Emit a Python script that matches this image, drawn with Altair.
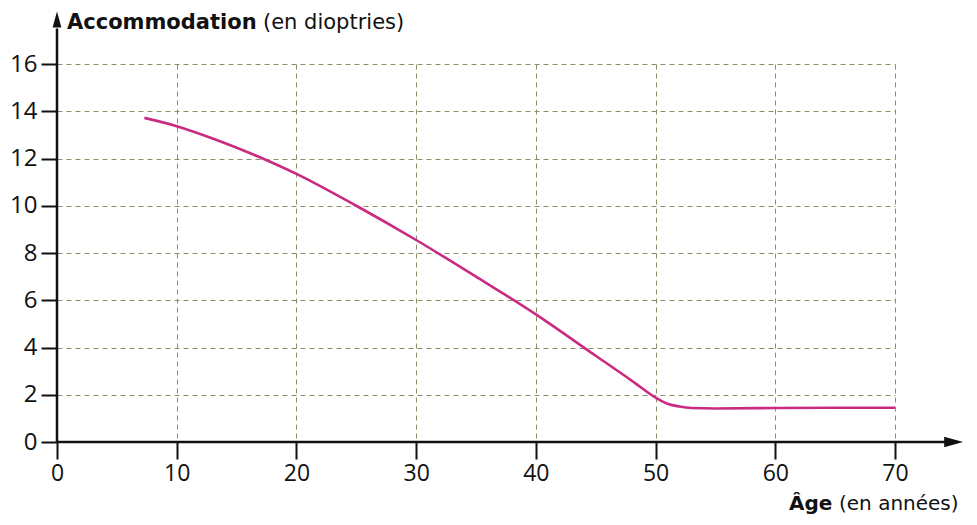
import altair as alt
import pandas as pd

# Data
age = [7.3, 10, 13, 16.5, 20, 25, 30, 35, 40, 45, 48, 50, 51, 52, 53, 55, 60, 65, 70]
accommodation = [13.72, 13.37, 12.85, 12.15, 11.35, 10.0, 8.55, 7.0, 5.4, 3.65,
                 2.6, 1.88, 1.62, 1.5, 1.44, 1.42, 1.44, 1.45, 1.45]
x_ticks = [0, 10, 20, 30, 40, 50, 60, 70]
y_ticks = [0, 2, 4, 6, 8, 10, 12, 14, 16]
y_title_bold = ["Accommodation"]
y_title_rest = ["(en dioptries)"]
x_title_bold = ["Âge"]
x_title_rest = ["(en années)"]
x_axis_end = [74.4]
y_axis_end = [17.5]
x_arrow_pos = [74.9]
y_arrow_pos = [17.88]

df = pd.DataFrame({"age": age, "acc": accommodation})

xs = alt.Scale(domain=[0, 70], nice=False, zero=False)
ys = alt.Scale(domain=[0, 16], nice=False, zero=False)

LABEL_FONT = "Open Sans"
TITLE_FONT = "DejaVu Sans"

curve = alt.Chart(df).mark_line(
    color="#c92a82", strokeWidth=2.6, interpolate="monotone"
).encode(
    x=alt.X("age:Q", scale=xs, title=None, axis=alt.Axis(
        values=x_ticks, title=None, grid=True, domain=False,
        tickSize=17, tickWidth=2, tickColor="#111111",
        labelFont=LABEL_FONT, labelFontSize=23, labelColor="#111111",
        labelPadding=3, labelFlush=False, labelOverlap=False,
        gridDash=[5, 4], gridColor="#8c8c66", gridWidth=1)),
    y=alt.Y("acc:Q", scale=ys, title=None, axis=alt.Axis(
        values=y_ticks, title=None, grid=True, domain=False,
        tickSize=16, tickWidth=2, tickColor="#111111",
        labelFont=LABEL_FONT, labelFontSize=24, labelColor="#111111",
        labelPadding=4, labelOverlap=False,
        gridDash=[5, 4], gridColor="#8c8c66", gridWidth=1)),
)

x_axis_line = alt.Chart(pd.DataFrame({"age": [0], "age2": x_axis_end, "acc": [0]})).mark_rule(
    color="#111111", strokeWidth=2.5
).encode(
    x=alt.X("age:Q", scale=xs, title=None),
    x2="age2:Q",
    y=alt.Y("acc:Q", scale=ys, title=None),
)

y_axis_line = alt.Chart(pd.DataFrame({"age": [0], "acc": [0], "acc2": y_axis_end})).mark_rule(
    color="#111111", strokeWidth=2.5
).encode(
    x=alt.X("age:Q", scale=xs, title=None),
    y=alt.Y("acc:Q", scale=ys, title=None),
    y2="acc2:Q",
)

x_arrow = alt.Chart(pd.DataFrame({"age": x_arrow_pos, "acc": [0]})).mark_point(
    shape="M-1,-0.55L1,0L-1,0.55Z", filled=True, color="#111111", opacity=1, size=361
).encode(
    x=alt.X("age:Q", scale=xs, title=None),
    y=alt.Y("acc:Q", scale=ys, title=None),
)

y_arrow = alt.Chart(pd.DataFrame({"age": [0], "acc": y_arrow_pos})).mark_point(
    shape="M-0.55,1L0,-1L0.55,1Z", filled=True, color="#111111", opacity=1, size=256
).encode(
    x=alt.X("age:Q", scale=xs, title=None),
    y=alt.Y("acc:Q", scale=ys, title=None),
)

def label(texts, bold, size, px, py):
    return alt.Chart(pd.DataFrame({"t": texts})).mark_text(
        font=TITLE_FONT, fontSize=size, fontWeight="bold" if bold else "normal",
        align="left", baseline="alphabetic", color="#111111"
    ).encode(text="t:N", x=alt.value(px), y=alt.value(py))

titles = (
    label(y_title_bold, True, 21, 10, -35)
    + label(y_title_rest, False, 21, 206, -35)
    + label(x_title_bold, True, 20, 732, 446)
    + label(x_title_rest, False, 20, 782, 446)
)

chart = alt.layer(
    curve, x_axis_line, y_axis_line, x_arrow, y_arrow, titles
).properties(
    width=838, height=378,
    padding={"left": 49, "top": 56, "right": 70, "bottom": 72},
    autosize="none",
    background="white",
).configure_view(stroke=None)

chart.save("out.html", embed_options={"renderer": "svg", "actions": False})
